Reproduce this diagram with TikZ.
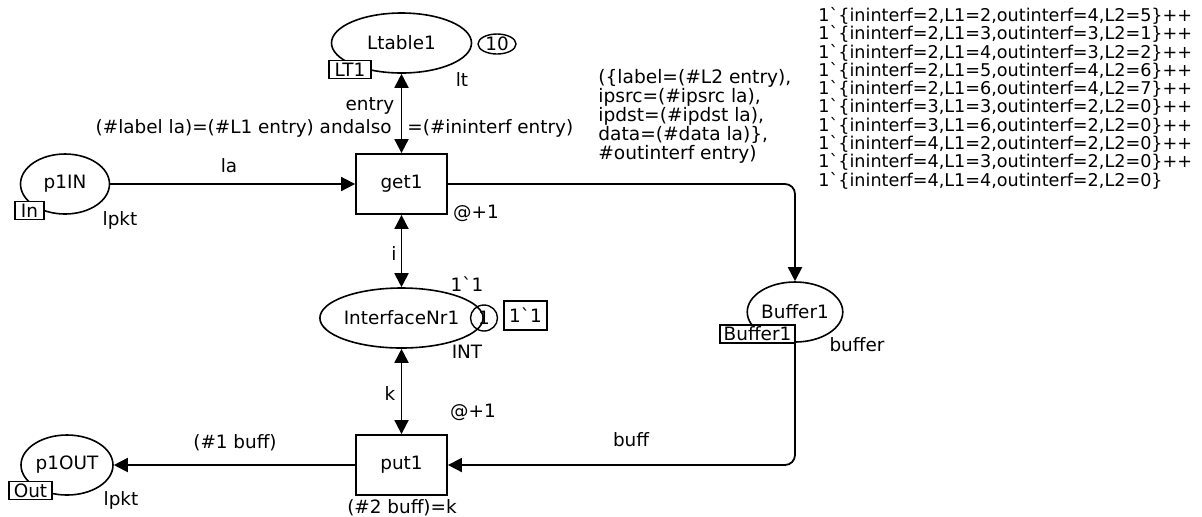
\documentclass[tikz,border=0pt]{standalone}
\usepackage{fontspec}
\setmainfont{DejaVu Sans}
\usetikzlibrary{shapes.geometric,arrows.meta,positioning}

\newcommand{\bq}{\textasciigrave}

\tikzset{
  every node/.style={font=\fontsize{9.2}{11}\selectfont},
  place/.style={draw, ellipse, line width=0.8pt, inner sep=0pt, minimum width=#1, minimum height=30pt},
  trans/.style={draw, rectangle, line width=0.9pt, inner sep=0pt, minimum width=45.5pt, minimum height=30pt},
  tag/.style={draw, fill=white, line width=0.7pt, inner sep=0.5pt, minimum height=9pt},
  token/.style={draw, ellipse, line width=0.7pt, inner sep=0pt},
  lbl/.style={inner sep=0pt},
  cpnarc/.style={line width=0.9pt, -{Triangle[length=7pt,width=7pt]}},
  biarc/.style={line width=0.9pt, {Triangle[length=7pt,width=7pt]}-{Triangle[length=7pt,width=7pt]}}
}

\begin{document}
\begin{tikzpicture}[x=0.5pt,y=-0.5pt]
\useasboundingbox (0,0) rectangle (1202,516);

% places
\node[place=70pt] (lt1) at (401.5,43) {Ltable1};
\node[place=44.5pt] (p1in) at (65,184) {p1IN};
\node[place=60.5pt] (ifnr) at (401.5,318) {InterfaceNr1};
\node[place=46pt] (buf1) at (795,312) {Buffer1};
\node[place=46pt] (p1out) at (67,465) {p1OUT};

% transitions
\node[trans] (get1) at (401.5,184) {get1};
\node[trans] (put1) at (401.5,465) {put1};

% tags and tokens
\node[tag, minimum width=21pt] (lt1tag) at (350,69.5) {LT1};
\node[tag, minimum width=14.5pt] (intag) at (29.5,210.5) {In};
\node[tag, minimum width=21.5pt] (outtag) at (30.5,490.5) {Out};
\node[tag, minimum width=37.5pt] (buftag) at (757.5,334) {Buffer1};
\node[tag, minimum width=21.5pt, minimum height=14.5pt] (ifinit) at (525.5,315.5) {1\bq 1};
\node[token, minimum width=19pt, minimum height=10pt] (lt1tok) at (497,44) {10};
\node[token, minimum width=13.5pt, minimum height=13pt] (iftok) at (484,318) {1};

% arcs
\draw[biarc] (lt1.south) -- (get1.north);
\draw[cpnarc] (p1in) -- (get1);
\draw[cpnarc, rounded corners=5pt] (get1.east) -| (buf1.north);
\draw[biarc] (get1.south) -- (ifnr.north);
\draw[biarc] (ifnr.south) -- (put1.north);
\draw[cpnarc, rounded corners=5pt] (buf1.south) |- (put1.east);
\draw[cpnarc] (put1) -- (p1out);

% inscriptions
\node[lbl] (ltcol) at (462,80) {lt};
\node[lbl] (entrylbl) at (370,106) {entry};
\node[lbl, anchor=east] (guard1) at (392,128) {(\#label la)=(\#L1 entry) andalso};
\node[lbl, anchor=west] (guard2) at (407,128) {=(\#ininterf entry)};
\node[lbl] (lalbl) at (229,166) {la};
\node[lbl] (incol) at (120,220) {lpkt};
\node[lbl] (gettime) at (476,213) {@+1};
\node[lbl] (ilbl) at (394,253) {i};
\node[lbl] (ifinitlbl) at (467,284) {1\bq 1};
\node[lbl] (ifcol) at (467,352) {INT};
\node[lbl] (klbl) at (390,393) {k};
\node[lbl] (puttime) at (473,412) {@+1};
\node[lbl] (outlbl) at (235,443) {(\#1 buff)};
\node[lbl] (bufflbl) at (631,440) {buff};
\node[lbl] (putguard) at (402,508) {(\#2 buff)=k};
\node[lbl] (outcol) at (121,500) {lpkt};
\node[lbl] (bufcol) at (857,345) {buffer};

\node[lbl, anchor=north west, align=left, font=\fontsize{9.3}{9.5}\selectfont] (getout) at (598,69)
  {(\{label=(\#L2 entry),\\ipsrc=(\#ipsrc la),\\ipdst=(\#ipdst la),\\data=(\#data la)\},\\\#outinterf entry)};

\node[lbl, anchor=north west, align=left, font=\fontsize{8.8}{9.15}\selectfont] (ltinit) at (818,7)
  {1\bq\{ininterf=2,L1=2,outinterf=4,L2=5\}++\\
   1\bq\{ininterf=2,L1=3,outinterf=3,L2=1\}++\\
   1\bq\{ininterf=2,L1=4,outinterf=3,L2=2\}++\\
   1\bq\{ininterf=2,L1=5,outinterf=4,L2=6\}++\\
   1\bq\{ininterf=2,L1=6,outinterf=4,L2=7\}++\\
   1\bq\{ininterf=3,L1=3,outinterf=2,L2=0\}++\\
   1\bq\{ininterf=3,L1=6,outinterf=2,L2=0\}++\\
   1\bq\{ininterf=4,L1=2,outinterf=2,L2=0\}++\\
   1\bq\{ininterf=4,L1=3,outinterf=2,L2=0\}++\\
   1\bq\{ininterf=4,L1=4,outinterf=2,L2=0\}};

\end{tikzpicture}
\end{document}
